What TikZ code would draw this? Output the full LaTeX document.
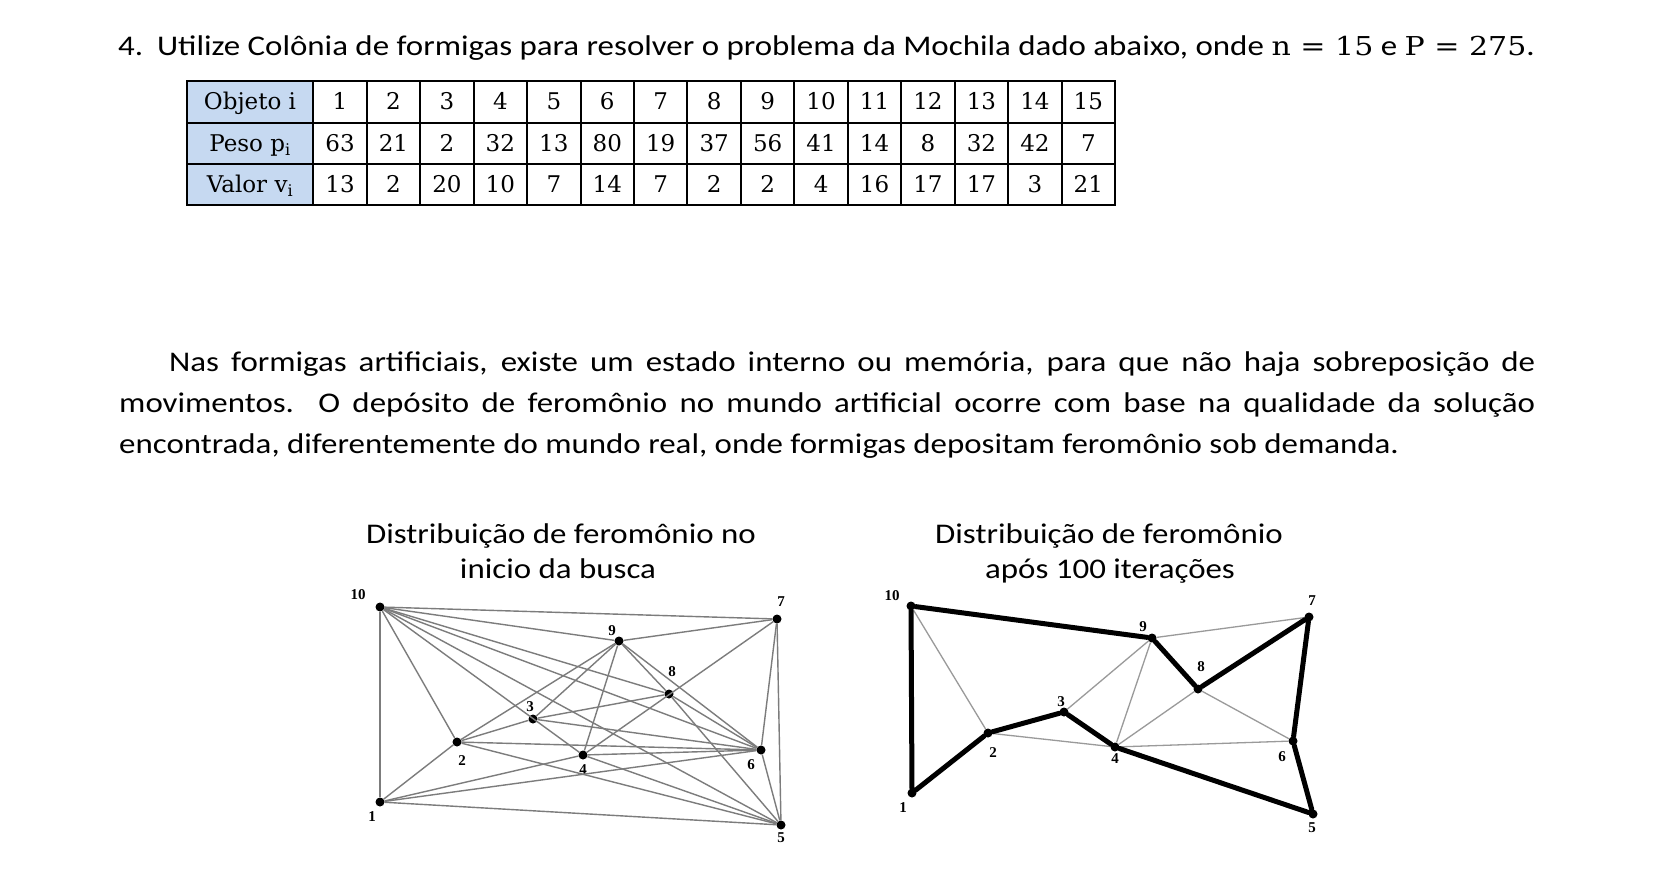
\documentclass[tikz,border=0pt]{standalone}
\usepackage{fontspec}
\usetikzlibrary{positioning}
\newfontfamily\calibri{Carlito}
\newfontfamily\numfont{Liberation Serif}
\newfontfamily\cambria{DejaVu Serif}

\definecolor{headblue}{HTML}{C6D9F1}
\definecolor{edgegray}{HTML}{7C7C7C}
\definecolor{lightgray}{HTML}{9A9A9A}

% texto largo como no original
\newcommand{\wide}[1]{\scalebox{1.155}[1]{#1}}

\tikzset{
  vertex/.style={circle,fill=black,inner sep=0pt,minimum size=9pt},
  vlabel/.style={inner sep=0pt,font=\numfont\bfseries\fontsize{15}{15}\selectfont},
  weak/.style={draw=edgegray,line width=1.4pt},
  faint/.style={draw=lightgray,line width=1.3pt},
  strong/.style={draw=black,line width=5pt,line cap=round},
  cell/.style={draw,line width=2pt,minimum width=53.45pt,minimum height=41.3pt,
    inner sep=0pt,text height=19pt,text depth=3pt,font=\cambria\fontsize{23}{23}\selectfont},
  headcell/.style={cell,fill=headblue,minimum width=126.6pt},
  prose/.style={anchor=base west,inner sep=0pt,font=\calibri\fontsize{28.5}{35}\selectfont},
  title/.style={anchor=base,inner sep=0pt,font=\calibri\fontsize{28.5}{35}\selectfont}
}

\begin{document}
\begin{tikzpicture}[x=1pt,y=-1pt]
  \useasboundingbox[fill=white] (0,0) rectangle (1653,888);

  % enunciado
  \node[prose] (enun) at (118,55.5) {\wide{4.\hspace{12pt}Utilize Colônia de formigas para resolver o problema da Mochila dado abaixo, onde {\cambria\fontsize{26}{30}\selectfont n = 15} e {\cambria\fontsize{26}{30}\selectfont P = 275}.}};

  % tabela
  \node[headcell] (obj) at (250,102) {Objeto i};
  \node[headcell] (peso) at (250,143.3) {Peso p\textsubscript{i}};
  \node[headcell] (valor) at (250,184.6) {Valor v\textsubscript{i}};
  \foreach \v [count=\i] in {1,2,3,4,5,6,7,8,9,10,11,12,13,14,15}
    \node[cell] (o\i) at ({313.3+(\i-0.5)*53.45},102) {\v};
  \foreach \v [count=\i] in {63,21,2,32,13,80,19,37,56,41,14,8,32,42,7}
    \node[cell] (p\i) at ({313.3+(\i-0.5)*53.45},143.3) {\v};
  \foreach \v [count=\i] in {13,2,20,10,7,14,7,2,2,4,16,17,17,3,21}
    \node[cell] (v\i) at ({313.3+(\i-0.5)*53.45},184.6) {\v};

  % texto
  \node[prose] (lin1) at (169,371.5) {\wide{\makebox[1182.7pt][s]{Nas formigas artificiais, existe um estado interno ou memória, para que não haja sobreposição de}}};
  \node[prose] (lin2) at (119,412.5) {\wide{\makebox[1226pt][s]{movimentos. O depósito de feromônio no mundo artificial ocorre com base na qualidade da solução}}};
  \node[prose] (lin3) at (119,453) {\wide{encontrada, diferentemente do mundo real, onde formigas depositam feromônio sob demanda.}};

  % grafo no inicio da busca
  \node[title] (ta1) at (561,543) {\wide{Distribuição de feromônio no}};
  \node[title] (ta2) at (558,578) {\wide{inicio da busca}};

  \node[vertex] (a10) at (380,607) {};
  \node[vertex] (a7) at (777,619) {};
  \node[vertex] (a9) at (619,641) {};
  \node[vertex] (a8) at (669,694) {};
  \node[vertex] (a3) at (533,719) {};
  \node[vertex] (a2) at (457,742) {};
  \node[vertex] (a4) at (583,755) {};
  \node[vertex] (a6) at (761,750) {};
  \node[vertex] (a1) at (380,802) {};
  \node[vertex] (a5) at (781,825) {};

  \node[vlabel] (la10) at (358,595) {10};
  \node[vlabel] (la7) at (781,602) {7};
  \node[vlabel] (la9) at (612,631) {9};
  \node[vlabel] (la8) at (672,672) {8};
  \node[vlabel] (la3) at (530,707) {3};
  \node[vlabel] (la2) at (462,761) {2};
  \node[vlabel] (la4) at (583,770) {4};
  \node[vlabel] (la6) at (751,765) {6};
  \node[vlabel] (la1) at (372,817) {1};
  \node[vlabel] (la5) at (781,838) {5};

  \path[weak]
    (a10) edge[line width=2.6pt] (a1)
          edge (a7)
          edge (a9)
          edge (a8)
          edge (a6)
          edge (a5)
          edge (a4)
          edge (a2)
    (a1) edge (a2)
         edge (a4)
         edge (a6)
         edge (a5)
    (a2) edge (a9)
         edge (a3)
         edge (a6)
         edge (a5)
    (a3) edge (a9)
         edge (a8)
         edge (a6)
    (a4) edge (a9)
         edge (a7)
         edge (a6)
         edge (a5)
    (a9) edge (a7)
         edge (a8)
         edge (a6)
    (a8) edge (a6)
         edge (a5)
    (a7) edge (a6)
         edge (a5)
    (a6) edge (a5);

  % grafo apos 100 iteracoes
  \node[title] (tb1) at (1109,543) {\wide{Distribuição de feromônio}};
  \node[title] (tb2) at (1110,578) {\wide{após 100 iterações}};

  \node[vertex] (b10) at (911,606) {};
  \node[vertex] (b9) at (1152,638) {};
  \node[vertex] (b7) at (1309,617) {};
  \node[vertex] (b8) at (1198,689) {};
  \node[vertex] (b3) at (1064,712) {};
  \node[vertex] (b2) at (988,733) {};
  \node[vertex] (b4) at (1115,747) {};
  \node[vertex] (b6) at (1293,741) {};
  \node[vertex] (b1) at (912,793) {};
  \node[vertex] (b5) at (1313,814) {};

  \node[vlabel] (lb10) at (892,596) {10};
  \node[vlabel] (lb7) at (1312,601) {7};
  \node[vlabel] (lb9) at (1143,627) {9};
  \node[vlabel] (lb8) at (1201,667) {8};
  \node[vlabel] (lb3) at (1061,702) {3};
  \node[vlabel] (lb2) at (993,753) {2};
  \node[vlabel] (lb4) at (1115,759) {4};
  \node[vlabel] (lb6) at (1282,757) {6};
  \node[vlabel] (lb1) at (903,808) {1};
  \node[vlabel] (lb5) at (1312,828) {5};

  \path[faint]
    (b10) edge (b2)
    (b9) edge (b7)
         edge (b3)
         edge (b4)
    (b2) edge (b4)
    (b4) edge (b8)
         edge (b6)
    (b8) edge (b6);

  \draw[strong] (b10) -- (b1) -- (b2) -- (b3) -- (b4) -- (b5) -- (b6) -- (b7) -- (b8) -- (b9) -- (b10);
\end{tikzpicture}
\end{document}
